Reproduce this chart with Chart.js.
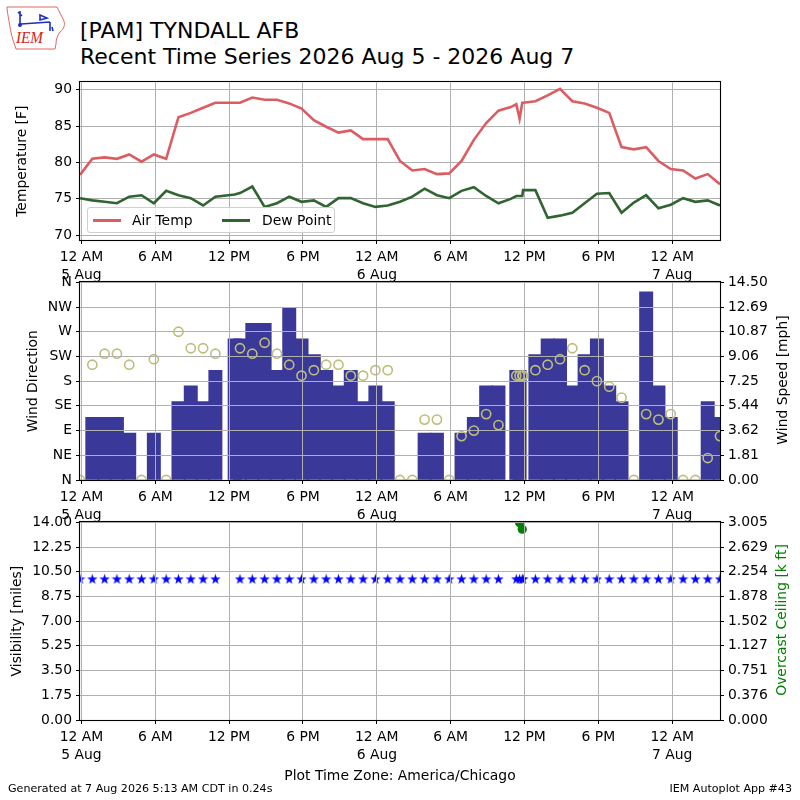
<!DOCTYPE html>
<html><head><meta charset="utf-8">
<script src="https://cdn.jsdelivr.net/npm/chart.js@4.4.1/dist/chart.umd.min.js"></script>
<style>
html,body{margin:0;padding:0;background:#fff;}
body{width:800px;height:800px;position:relative;overflow:hidden;font-family:"DejaVu Sans",sans-serif;color:#000;}
canvas{position:absolute;left:0;}
.t{position:absolute;white-space:nowrap;line-height:1;}
.rot{position:absolute;white-space:nowrap;line-height:1;transform:translate(-50%,-50%) rotate(-90deg);font-size:13.9px;}
#legend{position:absolute;left:87px;top:207px;width:248px;height:26px;border:1px solid #cfcfcf;border-radius:3px;background:rgba(255,255,255,0.8);box-sizing:border-box;}
.li{position:absolute;top:0;height:24px;font-size:13.9px;line-height:24px;}
.sw{position:absolute;top:11px;width:28px;height:3px;}
</style></head><body>

<svg style="position:absolute;left:0;top:0" width="70" height="55" viewBox="0 0 70 55">
  <path d="M7,7 L57,7 C59,11 61,15 63,19 C66,24 64,29 60,32 C57,36 56,40 56,44 L55,49 L16,49 C15,46 14,43 13,40 C11,34 10,27 9,21 C8,15 7,11 7,7 Z" fill="none" stroke="#e06868" stroke-width="1"/>
  <path d="M20,11 L20,26 M21,24 L50,22 M50,22 L50,31 M40,15 L47,18 L40,20 Z M18,12 L22,16 M52,27 L53,31" fill="none" stroke="#1f2fbf" stroke-width="1.6"/>
  <circle cx="20" cy="25" r="2" fill="#1f2fbf"/>
  <text x="16" y="43" font-family="Liberation Serif" font-style="italic" font-size="17" fill="#d82020" textLength="27" lengthAdjust="spacingAndGlyphs">IEM</text>
</svg>

<div class="t" style="left:80px;top:19.5px;font-size:22px;">[PAM] TYNDALL AFB</div>
<div class="t" style="left:80px;top:46px;font-size:22px;">Recent Time Series 2026 Aug 5 - 2026 Aug 7</div>

<canvas id="c1" width="800" height="220" style="top:70px"></canvas>
<canvas id="c2" width="800" height="260" style="top:270px"></canvas>
<canvas id="c3" width="800" height="260" style="top:510px"></canvas>

<div id="legend"></div>

<div class="rot" style="left:782.5px;top:380px;">Wind Speed [mph]</div>
<div class="rot" style="left:782px;top:620px;color:#008000;">Overcast Ceiling [k ft]</div>

<div class="t" style="left:400px;top:769px;font-size:13.9px;transform:translateX(-50%);">Plot Time Zone: America/Chicago</div>
<div class="t" style="left:8px;top:783px;font-size:11.1px;">Generated at 7 Aug 2026 5:13 AM CDT in 0.24s</div>
<div class="t" style="right:8px;top:783px;font-size:11.1px;">IEM Autoplot App #43</div>

<script>
// ---------------- DATA ----------------
const obsTimes = [
  "08-04 23:53","08-05 00:53","08-05 01:53","08-05 02:53","08-05 03:53","08-05 04:53",
  "08-05 05:53","08-05 06:53","08-05 07:53","08-05 08:53","08-05 09:53","08-05 10:53",
  "08-05 12:27","08-05 12:53","08-05 13:53","08-05 14:53","08-05 15:53","08-05 16:53",
  "08-05 17:53","08-05 18:53","08-05 19:53","08-05 20:53","08-05 21:53","08-05 22:53",
  "08-05 23:53","08-06 00:53","08-06 01:53","08-06 02:53","08-06 03:53","08-06 04:53",
  "08-06 05:53","08-06 06:53","08-06 07:53","08-06 08:53","08-06 09:53","08-06 10:53",
  "08-06 11:20","08-06 11:36","08-06 11:49","08-06 11:53","08-06 12:53","08-06 13:53",
  "08-06 14:53","08-06 15:53","08-06 16:53","08-06 17:53","08-06 18:53","08-06 19:53",
  "08-06 20:53","08-06 21:53","08-06 22:53","08-06 23:53","08-07 00:53","08-07 01:53",
  "08-07 02:53","08-07 03:53"
];
const airTemp = [
  78.3,80.5,80.7,80.5,81.1,80.1, 81.1,80.5,86.2,86.8,87.5,88.2,
  88.2,88.2,88.9,88.6,88.6,88.1, 87.4,85.8,84.9,84.1,84.4,83.2,
  83.2,83.2,80.2,78.9,79.1,78.4, 78.5,80.2,83.1,85.4,87.1,87.6,
  88.0,86.0,88.2,88.2,88.4,89.2, 90.1,88.4,88.1,87.5,86.8,82.1,
  81.8,82.1,80.2,79.1,78.9,77.8, 78.4,77.0
];
const dewPoint = [
  75.1,74.8,74.6,74.4,75.3,75.5, 74.4,76.1,75.5,75.1,74.1,75.3,
  75.6,75.8,76.7,73.9,74.4,75.3, 74.6,74.8,73.9,75.1,75.1,74.4,
  73.9,74.1,74.6,75.3,76.4,75.5, 75.1,76.1,76.6,75.4,74.4,75.0,
  75.4,75.4,75.4,76.2,76.2,72.4, 72.7,73.1,74.4,75.7,75.8,73.1,
  74.5,75.5,73.7,74.2,75.1,74.6, 74.8,74.1
];
const windSpeed = [ // mph
  0,4.6,4.6,4.6,3.45,0, 3.45,0,5.75,6.9,5.75,8.05,
  10.36,10.36,11.5,11.5,8.05,12.66, 10.36,9.2,8.05,6.9,8.05,5.75,
  6.9,5.75,0,0,3.45,3.45, 0,3.45,4.6,6.9,6.9,null,
  8.05,8.05,null,null,9.2,10.36, 10.36,6.9,9.2,10.36,6.9,5.75,
  0,13.8,6.9,4.6,0,0, 5.75,4.6
];
const windDir = [ // degrees
  0,210,230,230,210,0, 220,0,270,240,240,230,
  null,240,230,250,230,210, 190,200,210,210,190,190,
  200,200,0,0,110,110, 0,80,90,120,100,null,
  190,190,190,190,200,210, 220,240,200,180,170,150,
  0,120,110,120,0,0, 40,80
];
const visibility = [ // miles
  10,10,10,10,10,10, 10,10,10,10,10,10,
  null,10,10,10,10,10, 10,10,10,10,10,10,
  10,10,10,10,10,10, 10,10,10,10,10,null,
  10,10,10,10,10,10, 10,10,10,10,10,10,
  10,10,10,10,10,10, 10,10
];
const ceiling = [ // k ft
  null,null,null,null,null,null, null,null,null,null,null,null,
  null,null,null,null,null,null, null,null,null,null,null,null,
  null,null,null,null,null,null, null,null,null,null,null,null,
  null,3.0,2.9,null,null,null, null,null,null,null,null,null,
  null,null,null,null,null,null, null,null
];
const xTickHours = [0,6,12,18,24,30,36,42,48];
const xTickLabels = [["12 AM","5 Aug"],"6 AM","12 PM","6 PM",["12 AM","6 Aug"],"6 AM","12 PM","6 PM",["12 AM","7 Aug"]];
const tempTicks = [70,75,80,85,90];
const dirTicks = [0,45,90,135,180,225,270,315,360];
const dirLabels = ["N","NE","E","SE","S","SW","W","NW","N"];
const speedTicks = [0,1.8125,3.625,5.4375,7.25,9.0625,10.875,12.6875,14.5];
const speedLabels = ["0.00","1.81","3.62","5.44","7.25","9.06","10.87","12.69","14.50"];
const visTicks = [0,1.75,3.5,5.25,7,8.75,10.5,12.25,14];
const visLabels = ["0.00","1.75","3.50","5.25","7.00","8.75","10.50","12.25","14.00"];
const ceilTicks = [0,0.375625,0.75125,1.126875,1.5025,1.878125,2.25375,2.629375,3.005];
const ceilLabels = ["0.000","0.376","0.751","1.127","1.502","1.878","2.254","2.629","3.005"];
const seriesNames = ["Air Temp","Dew Point"];

// ---------------- SETUP ----------------
Chart.defaults.font.family = '"DejaVu Sans", sans-serif';
Chart.defaults.font.size = 13.9;
Chart.defaults.color = '#000';
Chart.defaults.animation = false;

function hoursOf(s){
  const [md, hm] = s.split(' ');
  const d = Number(md.split('-')[1]);
  const [h, m] = hm.split(':').map(Number);
  return (d - 5) * 24 + h + m / 60;
}
const xs = obsTimes.map(hoursOf);
const pts = arr => arr.map((v, i) => ({x: xs[i], y: v}));
const xMin = xs[0], xMax = xs[xs.length - 1];

const COL_T = 'rgb(220,92,98)', COL_TD = 'rgb(48,100,48)';
const GRID = '#b0b0b0';

const framePlugin = {
  id: 'frame',
  afterDraw(chart){
    const {ctx, chartArea: a} = chart;
    ctx.save();
    ctx.strokeStyle = '#000'; ctx.lineWidth = 1.1;
    ctx.strokeRect(Math.round(a.left) - 0.5, Math.round(a.top) - 0.5, Math.round(a.width) + 1, Math.round(a.height) + 1);
    ctx.restore();
  }
};

function xScale(gz){
  return {
    type: 'linear', min: xMin, max: xMax, offset: false,
    afterBuildTicks: s => { s.ticks = xTickHours.map(v => ({value: v})); },
    afterFit: s => { s.height = 50; },
    ticks: {autoSkip: false, maxRotation: 0, minRotation: 0, padding: 5,
            font: {size: 13.9, lineHeight: 1.25}, callback: (v, i) => xTickLabels[i]},
    grid: {color: GRID, lineWidth: 1, tickColor: '#000', tickLength: 4, offset: false, z: gz},
    border: {display: false}
  };
}
function yScale(pos, min, max, tv, tl, gridOn, gz, title, tpad){
  const o = {
    type: 'linear', position: pos, min: min, max: max,
    afterBuildTicks: s => { s.ticks = tv.map(v => ({value: v})); },
    afterFit: s => { s.width = 80; },
    ticks: {autoSkip: false, padding: 4, callback: (v, i) => tl[i]},
    grid: gridOn ? {color: GRID, lineWidth: 1, tickColor: '#000', tickLength: 4, z: gz}
                 : {drawOnChartArea: false, tickColor: '#000', tickLength: 4},
    border: {display: false}
  };
  if (title) o.title = {display: true, text: title, padding: {top: tpad, bottom: 0}, font: {size: 13.9}};
  return o;
}
const common = (padRight) => ({
  responsive: false, animation: false,
  layout: {padding: {top: 10, left: 0, right: padRight, bottom: 0}},
  plugins: {legend: {display: false}, tooltip: {enabled: false}}
});

// ---- Panel 1: temperatures ----
new Chart(document.getElementById('c1'), {
  type: 'line',
  data: {datasets: [
    {label: seriesNames[0], data: pts(airTemp), borderColor: COL_T, borderWidth: 2.6, pointRadius: 0, tension: 0, clip: 0},
    {label: seriesNames[1], data: pts(dewPoint), borderColor: COL_TD, borderWidth: 2.6, pointRadius: 0, tension: 0, clip: 0}
  ]},
  options: Object.assign(common(80), {
    scales: {
      x: xScale(-1),
      y: yScale('left', 69.36, 90.99, tempTicks, tempTicks.map(String), true, -1, 'Temperature [F]', 14)
    }
  }),
  plugins: [framePlugin]
});

// legend (HTML)
(function(){
  const lg = document.getElementById('legend');
  const cols = [COL_T, COL_TD];
  const offs = [[5, 44], [134, 174]];
  seriesNames.forEach((n, i) => {
    const sw = document.createElement('div');
    sw.className = 'sw'; sw.style.left = offs[i][0] + 'px'; sw.style.background = cols[i];
    const tx = document.createElement('div');
    tx.className = 'li'; tx.style.left = offs[i][1] + 'px'; tx.textContent = n;
    lg.appendChild(sw); lg.appendChild(tx);
  });
})();

// ---- Panel 2: wind ----
// one-hour bar width in pixels, plus one pixel so neighbouring bars join without seams
const pxPerHour = 640 / (xMax - xMin);
new Chart(document.getElementById('c2'), {
  type: 'bar',
  data: {datasets: [
    {type: 'scatter', label: 'Wind Direction', data: pts(windDir), yAxisID: 'yDir', order: 1,
     pointStyle: 'circle', pointRadius: 4.6, pointBorderWidth: 1.6,
     pointBackgroundColor: 'rgba(0,0,0,0)', pointBorderColor: 'rgb(190,190,122)', clip: 0},
    {type: 'bar', label: 'Wind Speed', data: pts(windSpeed), yAxisID: 'ySpd', order: 2,
     backgroundColor: 'rgb(58,56,152)', borderWidth: 0, barThickness: pxPerHour + 1, clip: 0}
  ]},
  options: Object.assign(common(0), {
    scales: {
      x: xScale(1),
      yDir: yScale('left', 0, 360, dirTicks, dirLabels, true, 1, 'Wind Direction', 25),
      ySpd: yScale('right', 0, 14.5, speedTicks, speedLabels, false, 1, null, 0)
    }
  }),
  plugins: [framePlugin]
});

// ---- Panel 3: visibility & ceiling ----
function starCanvas(size, color){
  const c = document.createElement('canvas');
  c.width = size; c.height = size;
  const g = c.getContext('2d');
  g.fillStyle = color;
  g.beginPath();
  const R = size / 2, r = R * 0.382, cx = size / 2, cy = size / 2 + R * 0.1;
  for (let k = 0; k < 10; k++){
    const rad = k % 2 ? r : R;
    const a = -Math.PI / 2 + k * Math.PI / 5;
    g.lineTo(cx + rad * Math.cos(a), cy + rad * Math.sin(a));
  }
  g.closePath(); g.fill();
  return c;
}
const starImg = starCanvas(11, '#0000ff');
new Chart(document.getElementById('c3'), {
  type: 'scatter',
  data: {datasets: [
    {label: 'Visibility', data: pts(visibility), yAxisID: 'yVis', pointStyle: starImg, pointRadius: 5, clip: 0},
    {label: 'Overcast Ceiling', data: pts(ceiling), yAxisID: 'yCeil', pointStyle: 'circle', pointRadius: 4.6,
     pointBackgroundColor: '#008000', pointBorderColor: '#008000', pointBorderWidth: 0, clip: 0}
  ]},
  options: Object.assign(common(0), {
    scales: {
      x: xScale(1),
      yVis: yScale('left', 0, 14, visTicks, visLabels, true, 1, 'Visibility [miles]', 9.5),
      yCeil: yScale('right', 0, 3.005, ceilTicks, ceilLabels, false, 1, null, 0)
    }
  }),
  plugins: [framePlugin]
});
</script>
</body></html>
